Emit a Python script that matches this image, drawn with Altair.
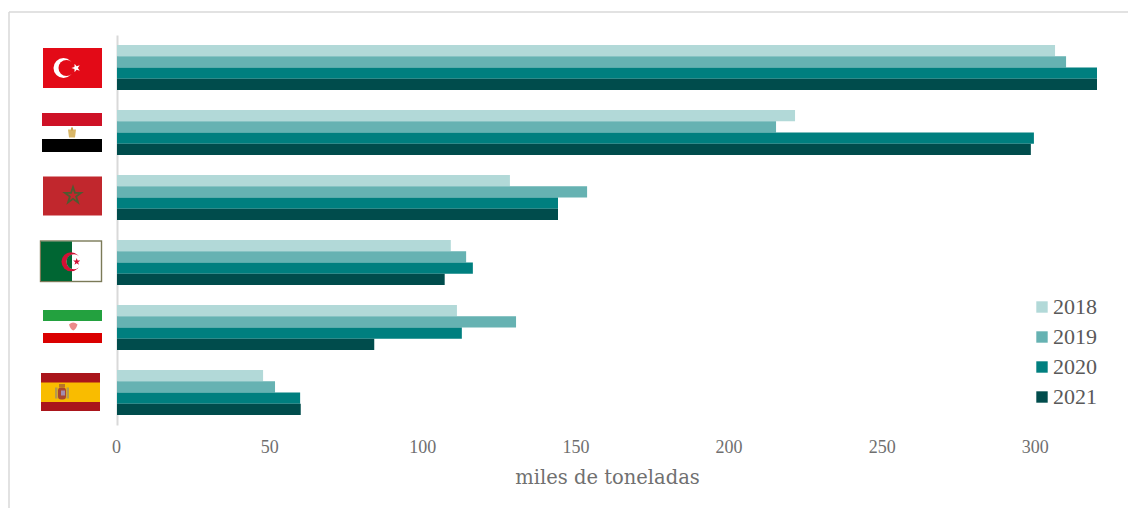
import base64
import math

import altair as alt
import pandas as pd

countries = ["Turquía", "Egipto", "Marruecos", "Argelia", "Irán", "España"]
years = ["2018", "2019", "2020", "2021"]
values_2018 = [306.3, 221.4, 128.3, 109.0, 111.0, 47.7]
values_2019 = [309.9, 215.2, 153.5, 114.0, 130.3, 51.6]
values_2020 = [320.0, 299.4, 144.0, 116.2, 112.6, 59.8]
values_2021 = [320.0, 298.4, 144.0, 107.0, 84.0, 60.0]
year_colors = ["#b2d9d8", "#66b2b2", "#007f7f", "#004c4c"]
x_ticks = [0, 50, 100, 150, 200, 250, 300]

TEXT_FONT = "Liberation Serif"
TITLE_FONT = "DejaVu Serif"


def star(cx, cy, outer, inner, fill, extra="", rotation=-90):
    points = []
    for i in range(10):
        radius = outer if i % 2 == 0 else inner
        angle = math.radians(rotation + 36 * i)
        points.append(f"{cx + radius * math.cos(angle):.2f},{cy + radius * math.sin(angle):.2f}")
    return f'<polygon points="{" ".join(points)}" fill="{fill}" {extra}/>'


def flag_uri(body):
    svg = f'<svg xmlns="http://www.w3.org/2000/svg" width="70" height="50" viewBox="0 0 70 50">{body}</svg>'
    return "data:image/svg+xml;base64," + base64.b64encode(svg.encode()).decode()


# Each flag is drawn in a 70x50 box centred on its country's band.
turkey = (
    '<rect x="6" y="5.5" width="59" height="40" fill="#e30a17"/>'
    '<circle cx="26.5" cy="25.5" r="10" fill="#fff"/>'
    '<circle cx="29.5" cy="25.5" r="8" fill="#e30a17"/>'
    + star(39, 25.5, 4.6, 1.9, "#fff", rotation=180)
)
egypt = (
    '<rect x="5" y="5.5" width="60" height="13" fill="#ce1126"/>'
    '<rect x="5" y="31.5" width="60" height="13" fill="#000"/>'
    '<path d="M31 22 L39 22 L38 30 L32 30 Z" fill="#d9b768"/>'
    '<rect x="34" y="20" width="2" height="3" fill="#c9a04c"/>'
)
morocco = (
    '<rect x="6" y="4" width="59" height="39" fill="#c1272d"/>'
    + star(36, 23, 8.5, 3.3, "none", 'stroke="#4f5a30" stroke-width="1.8"')
)
algeria = (
    '<rect x="3.5" y="3.5" width="61" height="40.5" fill="#fff" stroke="#7b7a58" stroke-width="1.4"/>'
    '<rect x="4" y="4" width="31" height="39.5" fill="#006633"/>'
    '<circle cx="34" cy="24.2" r="9.5" fill="#d21034"/>'
    '<circle cx="37" cy="24.2" r="7.5" fill="#fff"/>'
    '<path d="M35 16.97 A7.5 7.5 0 0 0 35 31.43 Z" fill="#006633"/>'
    + star(39.7, 24.2, 3.8, 1.5, "#d21034")
)
iran = (
    '<rect x="6" y="7.5" width="59" height="11" fill="#23a13f"/>'
    '<rect x="6" y="30.5" width="59" height="10" fill="#da0000"/>'
    '<path d="M32 22 Q36 18 40.5 22 Q39 27 36.2 28 Q33.5 27 32 22 Z" fill="#ec8a8a"/>'
)
spain = (
    '<rect x="4" y="5.5" width="59" height="38" fill="#aa151b"/>'
    '<rect x="4" y="15" width="59" height="19.5" fill="#f9bc00"/>'
    '<rect x="18" y="20" width="2.5" height="11" fill="#b59a4f"/>'
    '<rect x="29.5" y="20" width="2.5" height="11" fill="#b59a4f"/>'
    '<rect x="21" y="20" width="8" height="12" rx="3" fill="#a9472e"/>'
    '<rect x="22" y="16.5" width="6" height="3.5" fill="#b8732a"/>'
    '<rect x="24" y="23" width="4" height="5" fill="#a28bb0"/>'
)
flag_images = [flag_uri(b) for b in (turkey, egypt, morocco, algeria, iran, spain)]

rows = []
for year, series in zip(years, (values_2018, values_2019, values_2020, values_2021)):
    for country, value in zip(countries, series):
        rows.append({"country": country, "year": year, "value": value})
bars_data = pd.DataFrame(rows)
flags_data = pd.DataFrame({"country": countries, "flag": flag_images})

y_scale = alt.Scale(domain=countries, paddingInner=20 / 65, paddingOuter=10 / 65)

bars = (
    alt.Chart(bars_data)
    .mark_bar(size=11.25)
    .encode(
        x=alt.X(
            "value:Q",
            scale=alt.Scale(domain=[0, 320], nice=False),
            axis=alt.Axis(
                values=x_ticks,
                title="miles de toneladas",
                grid=False,
                domain=False,
                ticks=False,
                labelFlush=False,
                labelFont=TEXT_FONT,
                labelFontSize=18,
                labelColor="#6f6f6f",
                labelPadding=13,
                labelOffset=-1,
                titleFont=TITLE_FONT,
                titleFontSize=19.5,
                titleFontWeight="normal",
                titleColor="#707070",
                titlePadding=12,
            ),
        ),
        y=alt.Y(
            "country:N",
            scale=y_scale,
            sort=countries,
            axis=alt.Axis(
                title=None,
                labels=False,
                ticks=False,
                grid=False,
                domain=True,
                domainColor="#d9d9d9",
                domainWidth=2,
            ),
        ),
        yOffset=alt.YOffset("year:N", sort=years),
        color=alt.Color(
            "year:N",
            sort=years,
            scale=alt.Scale(domain=years, range=year_colors),
            legend=alt.Legend(
                title=None,
                orient="none",
                legendX=914,
                legendY=261,
                symbolType="square",
                symbolSize=130,
                symbolStrokeWidth=0,
                symbolOpacity=1,
                labelFont=TEXT_FONT,
                labelFontSize=22,
                labelColor="#595959",
                labelOffset=0,
                rowPadding=8,
            ),
        ),
    )
)

flags = (
    alt.Chart(flags_data)
    .mark_image(width=70, height=50, align="center", baseline="middle")
    .encode(
        x=alt.value(-45),
        y=alt.Y("country:N", scale=y_scale, sort=countries),
        url="flag:N",
    )
)

frame_left = alt.Chart(pd.DataFrame({"a": [0]})).mark_rule(color="#d9d9d9", strokeWidth=1.5).encode(
    x=alt.value(-108), y=alt.value(-23), y2=alt.value(473)
)
frame_top = alt.Chart(pd.DataFrame({"a": [0]})).mark_rule(color="#d9d9d9", strokeWidth=1.5).encode(
    x=alt.value(-108), x2=alt.value(1011), y=alt.value(-23)
)

chart = (
    alt.layer(frame_left, frame_top, bars, flags)
    .properties(
        width=980,
        height=390,
        padding={"left": 117, "top": 35, "right": 31, "bottom": 83},
        autosize=alt.AutoSizeParams(type="none"),
        background="#ffffff",
    )
    .configure_view(stroke=None)
)

chart.save("out.html", embed_options={"renderer": "svg", "actions": False})
